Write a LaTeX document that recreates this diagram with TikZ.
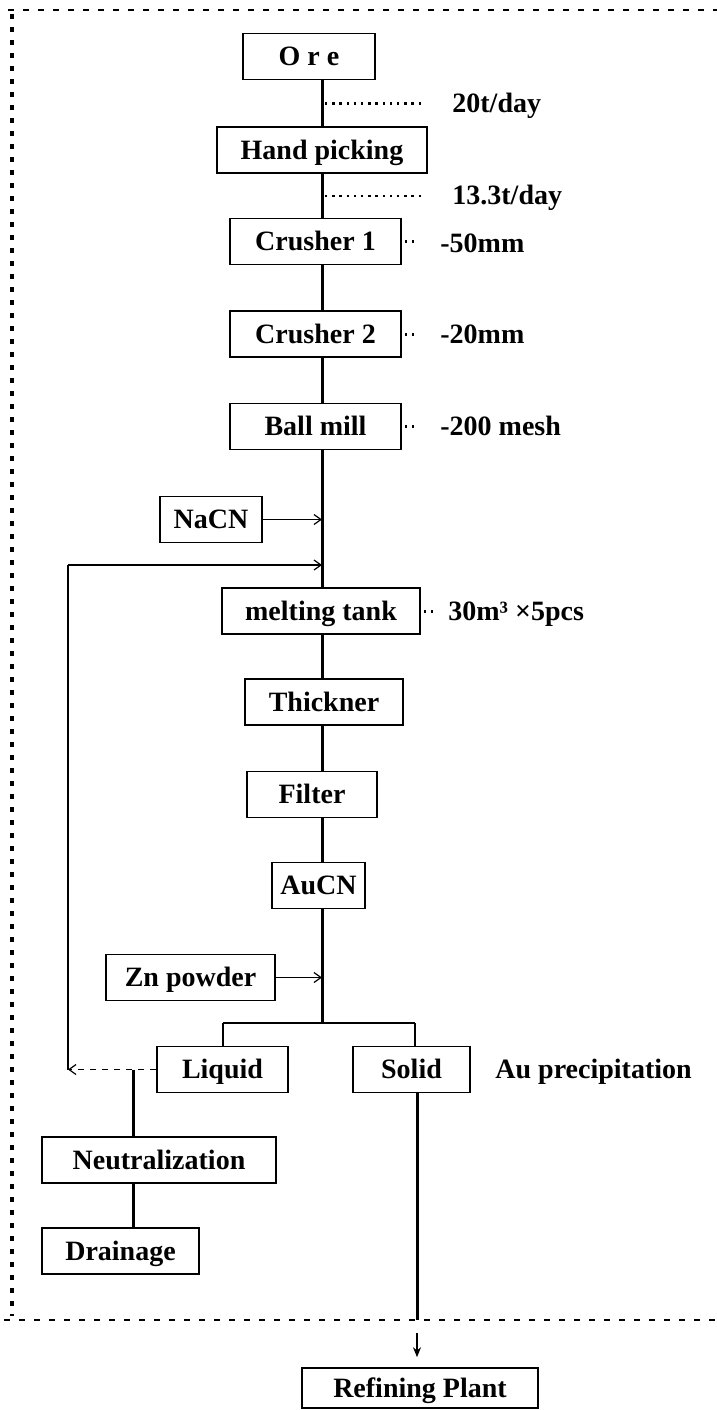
\documentclass[tikz,border=0pt]{standalone}
\usepackage{fontspec}
\setmainfont{Liberation Serif}
\usetikzlibrary{arrows.meta}
\begin{document}
\begin{tikzpicture}[x=0.5pt,y=-0.5pt,
  box/.style={draw, line width=0.8pt, fill=white, minimum height=23pt, inner sep=0pt, text height=9.3pt, text depth=0pt, font=\fontsize{14}{16}\selectfont\bfseries},
  lbl/.style={anchor=west, inner sep=0pt, text height=9.3pt, text depth=0pt, font=\fontsize{14}{16}\selectfont\bfseries},
  mainln/.style={line width=1.5pt},
  thinln/.style={line width=0.6pt},
  sideln/.style={line width=1.3pt},
  dotln/.style={line width=1.3pt, dash pattern=on 1.2pt off 2.4pt},
  shortdots/.style={line width=1.5pt, dash pattern=on 1.3pt off 2.2pt},
  arr/.style={-{Straight Barb[length=3.5pt,width=5pt]}},
  border/.style={line width=0.7pt, dash pattern=on 3pt off 4.5pt}
]
\useasboundingbox (0,0) rectangle (717,1410);

% frame
\draw[border] (8,10) -- (717,10);
\draw[line width=1.6pt, dash pattern=on 2.5pt off 4pt] (12,14) -- (12,1316);
\draw[border] (4,1320) -- (717,1320);

% boxes
\node[box, minimum width=66pt]   (ore)    at (309,56.5)   {O r e};
\node[box, minimum width=105pt]  (hand)   at (322,150)    {Hand picking};
\node[box, minimum width=85.5pt] (cr1)    at (315.5,241.5){Crusher 1};
\node[box, minimum width=85.5pt] (cr2)    at (315.5,334)  {Crusher 2};
\node[box, minimum width=85.5pt] (ball)   at (315.5,426.5){Ball mill};
\node[box, minimum width=51pt]   (nacn)   at (211,519.5)  {NaCN};
\node[box, minimum width=99pt]   (melt)   at (321,611)    {melting tank};
\node[box, minimum width=79pt]   (thick)  at (324,702)    {Thickner};
\node[box, minimum width=65pt]   (filter) at (312,794.5)  {Filter};
\node[box, minimum width=46.5pt] (aucn)   at (318.5,885.5){AuCN};
\node[box, minimum width=84.5pt] (zn)     at (190.5,977.5){Zn powder};
\node[box, minimum width=65.5pt] (liquid) at (222.5,1069.5){Liquid};
\node[box, minimum width=58.5pt] (solid)  at (411.5,1069.5){Solid};
\node[box, minimum width=117pt]  (neut)   at (159,1160)   {Neutralization};
\node[box, minimum width=78.5pt] (drain)  at (120.5,1251) {Drainage};
\node[box, minimum width=118pt, minimum height=20pt] (refine) at (420,1388) {Refining Plant};

% helper coordinates
\coordinate (mx) at (322,0);
\coordinate (fbt) at (68,565);
\coordinate (sp) at (322,1023);
\coordinate (spl) at (223,1023);
\coordinate (spr) at (415,1023);
\coordinate (lx) at (133,0);
\coordinate (sx) at (417,0);
\coordinate (bd) at (417,1320);
\coordinate (ar1) at (417,1333);

% main line
\draw[mainln] (ore.south -| mx) -- (hand.north -| mx);
\draw[mainln] (hand.south -| mx) -- (cr1.north -| mx);
\draw[mainln] (cr1.south -| mx) -- (cr2.north -| mx);
\draw[mainln] (cr2.south -| mx) -- (ball.north -| mx);
\draw[mainln] (ball.south -| mx) -- (melt.north -| mx);
\draw[mainln] (melt.south -| mx) -- (thick.north -| mx);
\draw[mainln] (thick.south -| mx) -- (filter.north -| mx);
\draw[mainln] (filter.south -| mx) -- (aucn.north -| mx);
\draw[mainln] (aucn.south -| mx) -- (sp);

% reagent arrows
\draw[thinln, arr] (nacn.east) -- (nacn.east -| mx);
\draw[thinln, arr] (zn.east) -- (zn.east -| mx);

% split
\draw[thinln] (spl) -- (spr);
\draw[thinln] (spl) -- (liquid.north -| spl);
\draw[thinln] (spr) -- (solid.north -| spr);

% feedback loop
\coordinate (fbl) at (liquid.west -| fbt);
\draw[thinln, dashed, arr] (liquid.west) -- (fbl);
\draw[sideln] (fbl) -- (fbt);
\draw[thinln, arr] (fbt) -- (fbt -| mx);

% liquid branch
\draw[mainln] (liquid.west -| lx) -- (neut.north -| lx);
\draw[mainln] (neut.south -| lx) -- (drain.north -| lx);

% solid branch
\draw[mainln] (solid.south -| sx) -- (bd);
\draw[line width=0.9pt, -{Stealth[length=5pt,width=4pt]}] (ar1) -- ([yshift=5pt]refine.north -| sx);

% annotations
\draw[dotln] (ore.south -| mx) ++(3,23) coordinate (d1) -- ++(98,0) coordinate (d1e);
\node[lbl] (t1) at (452,103) {20t/day};
\draw[dotln] (hand.south -| mx) ++(3,22) coordinate (d2) -- ++(98,0) coordinate (d2e);
\node[lbl] (t2) at (452,195) {13.3t/day};

\draw[shortdots] ([xshift=1.5pt]cr1.east) -- ++(12,0);
\node[lbl] (t3) at (440,243) {-50mm};
\draw[shortdots] ([xshift=1.5pt]cr2.east) -- ++(12,0);
\node[lbl] (t4) at (440,334) {-20mm};
\draw[shortdots] ([xshift=1.5pt]ball.east) -- ++(12,0);
\node[lbl] (t5) at (440,426.5) {-200 mesh};
\draw[shortdots] ([xshift=1.5pt]melt.east) -- ++(12,0);
\node[lbl] (t6) at (448,611) {30m³ ×5pcs};
\node[lbl] (t7) at (495,1069.5) {Au precipitation};
\end{tikzpicture}
\end{document}
